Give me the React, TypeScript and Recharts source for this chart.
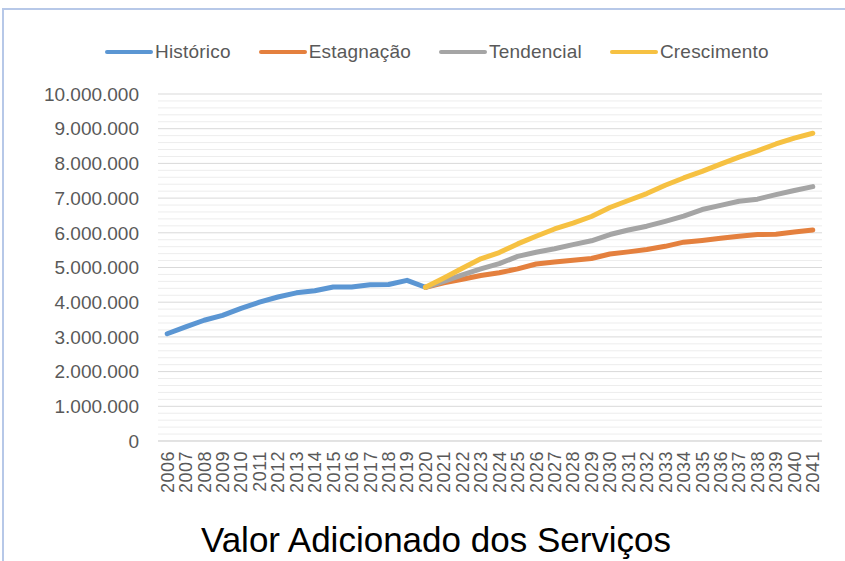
import React from 'react';
import { LineChart, Line, XAxis, YAxis, CartesianGrid, Legend } from 'recharts';

const years = [
  2006, 2007, 2008, 2009, 2010, 2011, 2012, 2013, 2014, 2015, 2016, 2017, 2018,
  2019, 2020, 2021, 2022, 2023, 2024, 2025, 2026, 2027, 2028, 2029, 2030, 2031,
  2032, 2033, 2034, 2035, 2036, 2037, 2038, 2039, 2040, 2041,
];

const historico: (number | null)[] = [
  3090000, 3290000, 3480000, 3620000, 3820000, 4000000, 4150000, 4270000, 4330000,
  4440000, 4440000, 4500000, 4510000, 4630000, 4430000,
  null, null, null, null, null, null, null, null, null, null, null, null, null, null,
  null, null, null, null, null, null, null,
];

const estagnacao: (number | null)[] = [
  null, null, null, null, null, null, null, null, null, null, null, null, null, null,
  4430000, 4560000, 4660000, 4770000, 4850000, 4960000, 5100000, 5160000, 5210000,
  5260000, 5390000, 5450000, 5520000, 5610000, 5730000, 5780000, 5840000, 5900000,
  5950000, 5960000, 6020000, 6080000,
];

const tendencial: (number | null)[] = [
  null, null, null, null, null, null, null, null, null, null, null, null, null, null,
  4430000, 4600000, 4790000, 4960000, 5110000, 5320000, 5440000, 5540000, 5660000,
  5770000, 5950000, 6080000, 6190000, 6330000, 6480000, 6670000, 6790000, 6910000,
  6970000, 7100000, 7220000, 7330000,
];

const crescimento: (number | null)[] = [
  null, null, null, null, null, null, null, null, null, null, null, null, null, null,
  4430000, 4700000, 4980000, 5250000, 5430000, 5680000, 5900000, 6110000, 6280000,
  6470000, 6730000, 6930000, 7130000, 7370000, 7580000, 7770000, 7980000, 8180000,
  8360000, 8560000, 8730000, 8870000,
];

const yTicks = [0, 1000000, 2000000, 3000000, 4000000, 5000000, 6000000, 7000000, 8000000, 9000000, 10000000];
const minorTicks = [
  200000, 400000, 600000, 800000, 1200000, 1400000, 1600000, 1800000, 2200000, 2400000,
  2600000, 2800000, 3200000, 3400000, 3600000, 3800000, 4200000, 4400000, 4600000, 4800000,
  5200000, 5400000, 5600000, 5800000, 6200000, 6400000, 6600000, 6800000, 7200000, 7400000,
  7600000, 7800000, 8200000, 8400000, 8600000, 8800000, 9200000, 9400000, 9600000, 9800000,
];

const seriesDefs = [
  { key: 'historico', name: 'Histórico', color: '#5B96D3' },
  { key: 'estagnacao', name: 'Estagnação', color: '#E4803E' },
  { key: 'tendencial', name: 'Tendencial', color: '#A5A5A5' },
  { key: 'crescimento', name: 'Crescimento', color: '#F6C142' },
];

const data = years.map((y, i) => ({
  year: String(y),
  historico: historico[i],
  estagnacao: estagnacao[i],
  tendencial: tendencial[i],
  crescimento: crescimento[i],
}));

const fmt = (v: number) => String(v).replace(/\B(?=(\d{3})+(?!\d))/g, '.');

const FONT = '"Liberation Sans", Arial, Helvetica, sans-serif';

const XTick = (props: any) => {
  const { x, y, payload } = props;
  return (
    <text
      x={0}
      y={0}
      dy="0.36em"
      textAnchor="end"
      fill="#595959"
      fontSize={18}
      fontFamily={FONT}
      letterSpacing={0.5}
      transform={`translate(${x},${y + 2}) rotate(-90)`}
    >
      {payload.value}
    </text>
  );
};

const LegendContent = () => (
  <div
    style={{
      display: 'flex',
      alignItems: 'center',
      height: 24,
      fontFamily: FONT,
      fontSize: 19,
      letterSpacing: 0.2,
      color: '#595959',
      whiteSpace: 'nowrap',
    }}
  >
    {seriesDefs.map((s, i) => (
      <div
        key={s.key}
        style={{ display: 'flex', alignItems: 'center', marginRight: i < 3 ? 28 : 0 }}
      >
        <div
          style={{
            width: 48,
            height: 4,
            borderRadius: 2,
            background: s.color,
            marginRight: 2,
          }}
        />
        <span>{s.name}</span>
      </div>
    ))}
  </div>
);

export default function App() {
  return (
    <div
      style={{
        position: 'absolute',
        left: 0,
        top: 0,
        width: 845,
        height: 561,
        background: '#ffffff',
        overflow: 'hidden',
      }}
    >
      <div
        style={{
          position: 'absolute',
          left: 2,
          top: 8,
          width: 860,
          height: 560,
          borderTop: '2px solid #B7C8E8',
          borderLeft: '2px solid #B7C8E8',
        }}
      />
      <div style={{ position: 'absolute', left: 0, top: 0 }}>
        <LineChart
          width={845}
          height={561}
          data={data}
          margin={{ top: 70, right: 23, bottom: 60, left: 0 }}
        >
          <CartesianGrid vertical={false} horizontalValues={minorTicks} stroke="#EDEDED" strokeWidth={1} />
          <CartesianGrid vertical={false} stroke="#D9D9D9" strokeWidth={1} />
          <XAxis
            dataKey="year"
            scale="band"
            interval={0}
            tickLine={false}
            axisLine={{ stroke: '#D9D9D9' }}
            tick={<XTick />}
            height={60}
          />
          <YAxis
            width={158}
            domain={[0, 10000000]}
            ticks={yTicks}
            tickFormatter={fmt}
            axisLine={false}
            tickLine={false}
            tickMargin={13}
            tick={{ fill: '#595959', fontSize: 19, fontFamily: FONT }}
            interval={0}
          />
          <Legend
            verticalAlign="top"
            align="left"
            content={<LegendContent />}
            wrapperStyle={{ top: 40, left: 105, width: 720 }}
          />
          {seriesDefs.map((s) => (
            <Line
              key={s.key}
              type="linear"
              dataKey={s.key}
              name={s.name}
              stroke={s.color}
              strokeWidth={5}
              strokeLinecap="round"
              strokeLinejoin="round"
              dot={false}
              activeDot={false}
              connectNulls={false}
              isAnimationActive={false}
            />
          ))}
        </LineChart>
      </div>
      <svg
        width={845}
        height={561}
        style={{ position: 'absolute', left: 0, top: 0, pointerEvents: 'none' }}
      >
        <text
          x={436}
          y={552}
          textAnchor="middle"
          fontFamily={FONT}
          fontSize={35}
          fill="#000000"
        >
          Valor Adicionado dos Serviços
        </text>
      </svg>
    </div>
  );
}
